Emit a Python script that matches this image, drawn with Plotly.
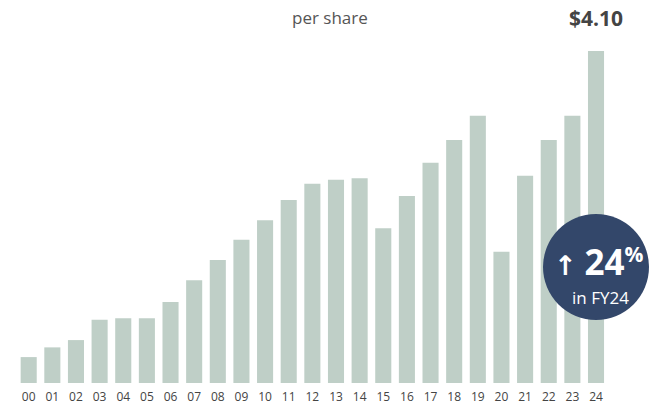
import plotly.graph_objects as go

years = ["00","01","02","03","04","05","06","07","08","09","10","11","12",
         "13","14","15","16","17","18","19","20","21","22","23","24"]
eps = [0.32,0.44,0.53,0.78,0.80,0.80,1.00,1.27,1.52,1.77,2.01,2.26,2.46,
       2.51,2.53,1.91,2.31,2.72,3.00,3.30,1.62,2.56,3.00,3.30,4.10]
title_text = "per share"
last_label = "$4.10"
badge_pct = "24"
badge_sub = "in FY24"

bar_color = "#bfcfc7"
navy = "#33476a"

fig = go.Figure()
fig.add_trace(go.Bar(
    x=list(range(len(years))), y=eps,
    marker=dict(color=bar_color, line=dict(width=0)),
    width=0.68, hoverinfo="skip",
))

W, H = 657, 407
PH = 383
fig.update_layout(
    width=W, height=H,
    margin=dict(l=0, r=0, t=0, b=24),
    paper_bgcolor="white", plot_bgcolor="white",
    showlegend=False,
    font=dict(family="Open Sans, sans-serif", color="#333"),
    xaxis=dict(
        range=[-1.214, 26.58],
        tickmode="array", tickvals=list(range(len(years))), ticktext=years,
        showgrid=False, zeroline=False, showline=False,
        ticks="outside", ticklen=3, tickcolor="rgba(0,0,0,0)",
        tickfont=dict(size=12, color="#444", family="Open Sans, sans-serif"),
        automargin=False, fixedrange=True,
    ),
    yaxis=dict(range=[0, 4.73], visible=False, fixedrange=True, automargin=False),
)

def px_x(px):
    return px / W
def px_y(py):
    return (PH - py) / PH

# title text
fig.add_annotation(
    x=px_x(330), y=px_y(17), xref="paper", yref="paper",
    xanchor="center", yanchor="middle", text=title_text,
    showarrow=False, font=dict(size=17, color="#555", family="Open Sans, sans-serif"),
)

# value label above last bar
fig.add_annotation(
    x=len(years) - 1, y=eps[-1], xref="x", yref="y",
    xanchor="center", yanchor="bottom",
    yshift=17, text="<b>" + last_label + "</b>", showarrow=False,
    font=dict(size=21, color="#444", family="Open Sans, sans-serif"),
)

# badge circle
cx, cy, r = 596, 267, 53
fig.add_shape(
    type="circle", xref="paper", yref="paper",
    x0=px_x(cx - r), x1=px_x(cx + r),
    y0=px_y(cy + r), y1=px_y(cy - r),
    fillcolor=navy, line=dict(width=0), layer="above",
)
fig.add_annotation(
    x=px_x(cx + 2), y=px_y(261), xref="paper", yref="paper",
    xanchor="center", yanchor="middle",
    text="<b><span style='font-family:DejaVu Sans;font-size:27px'>↑</span> "
         "<span style='font-size:35px'>" + badge_pct + "</span>"
         "<sup style='font-size:10px'>%</sup></b>",
    showarrow=False, font=dict(color="white", family="Open Sans, sans-serif", size=30),
)
fig.add_annotation(
    x=px_x(cx + 4), y=px_y(297), xref="paper", yref="paper",
    xanchor="center", yanchor="middle",
    text=badge_sub, showarrow=False,
    font=dict(color="white", family="Open Sans, sans-serif", size=17),
)

fig.write_html("out.html")
